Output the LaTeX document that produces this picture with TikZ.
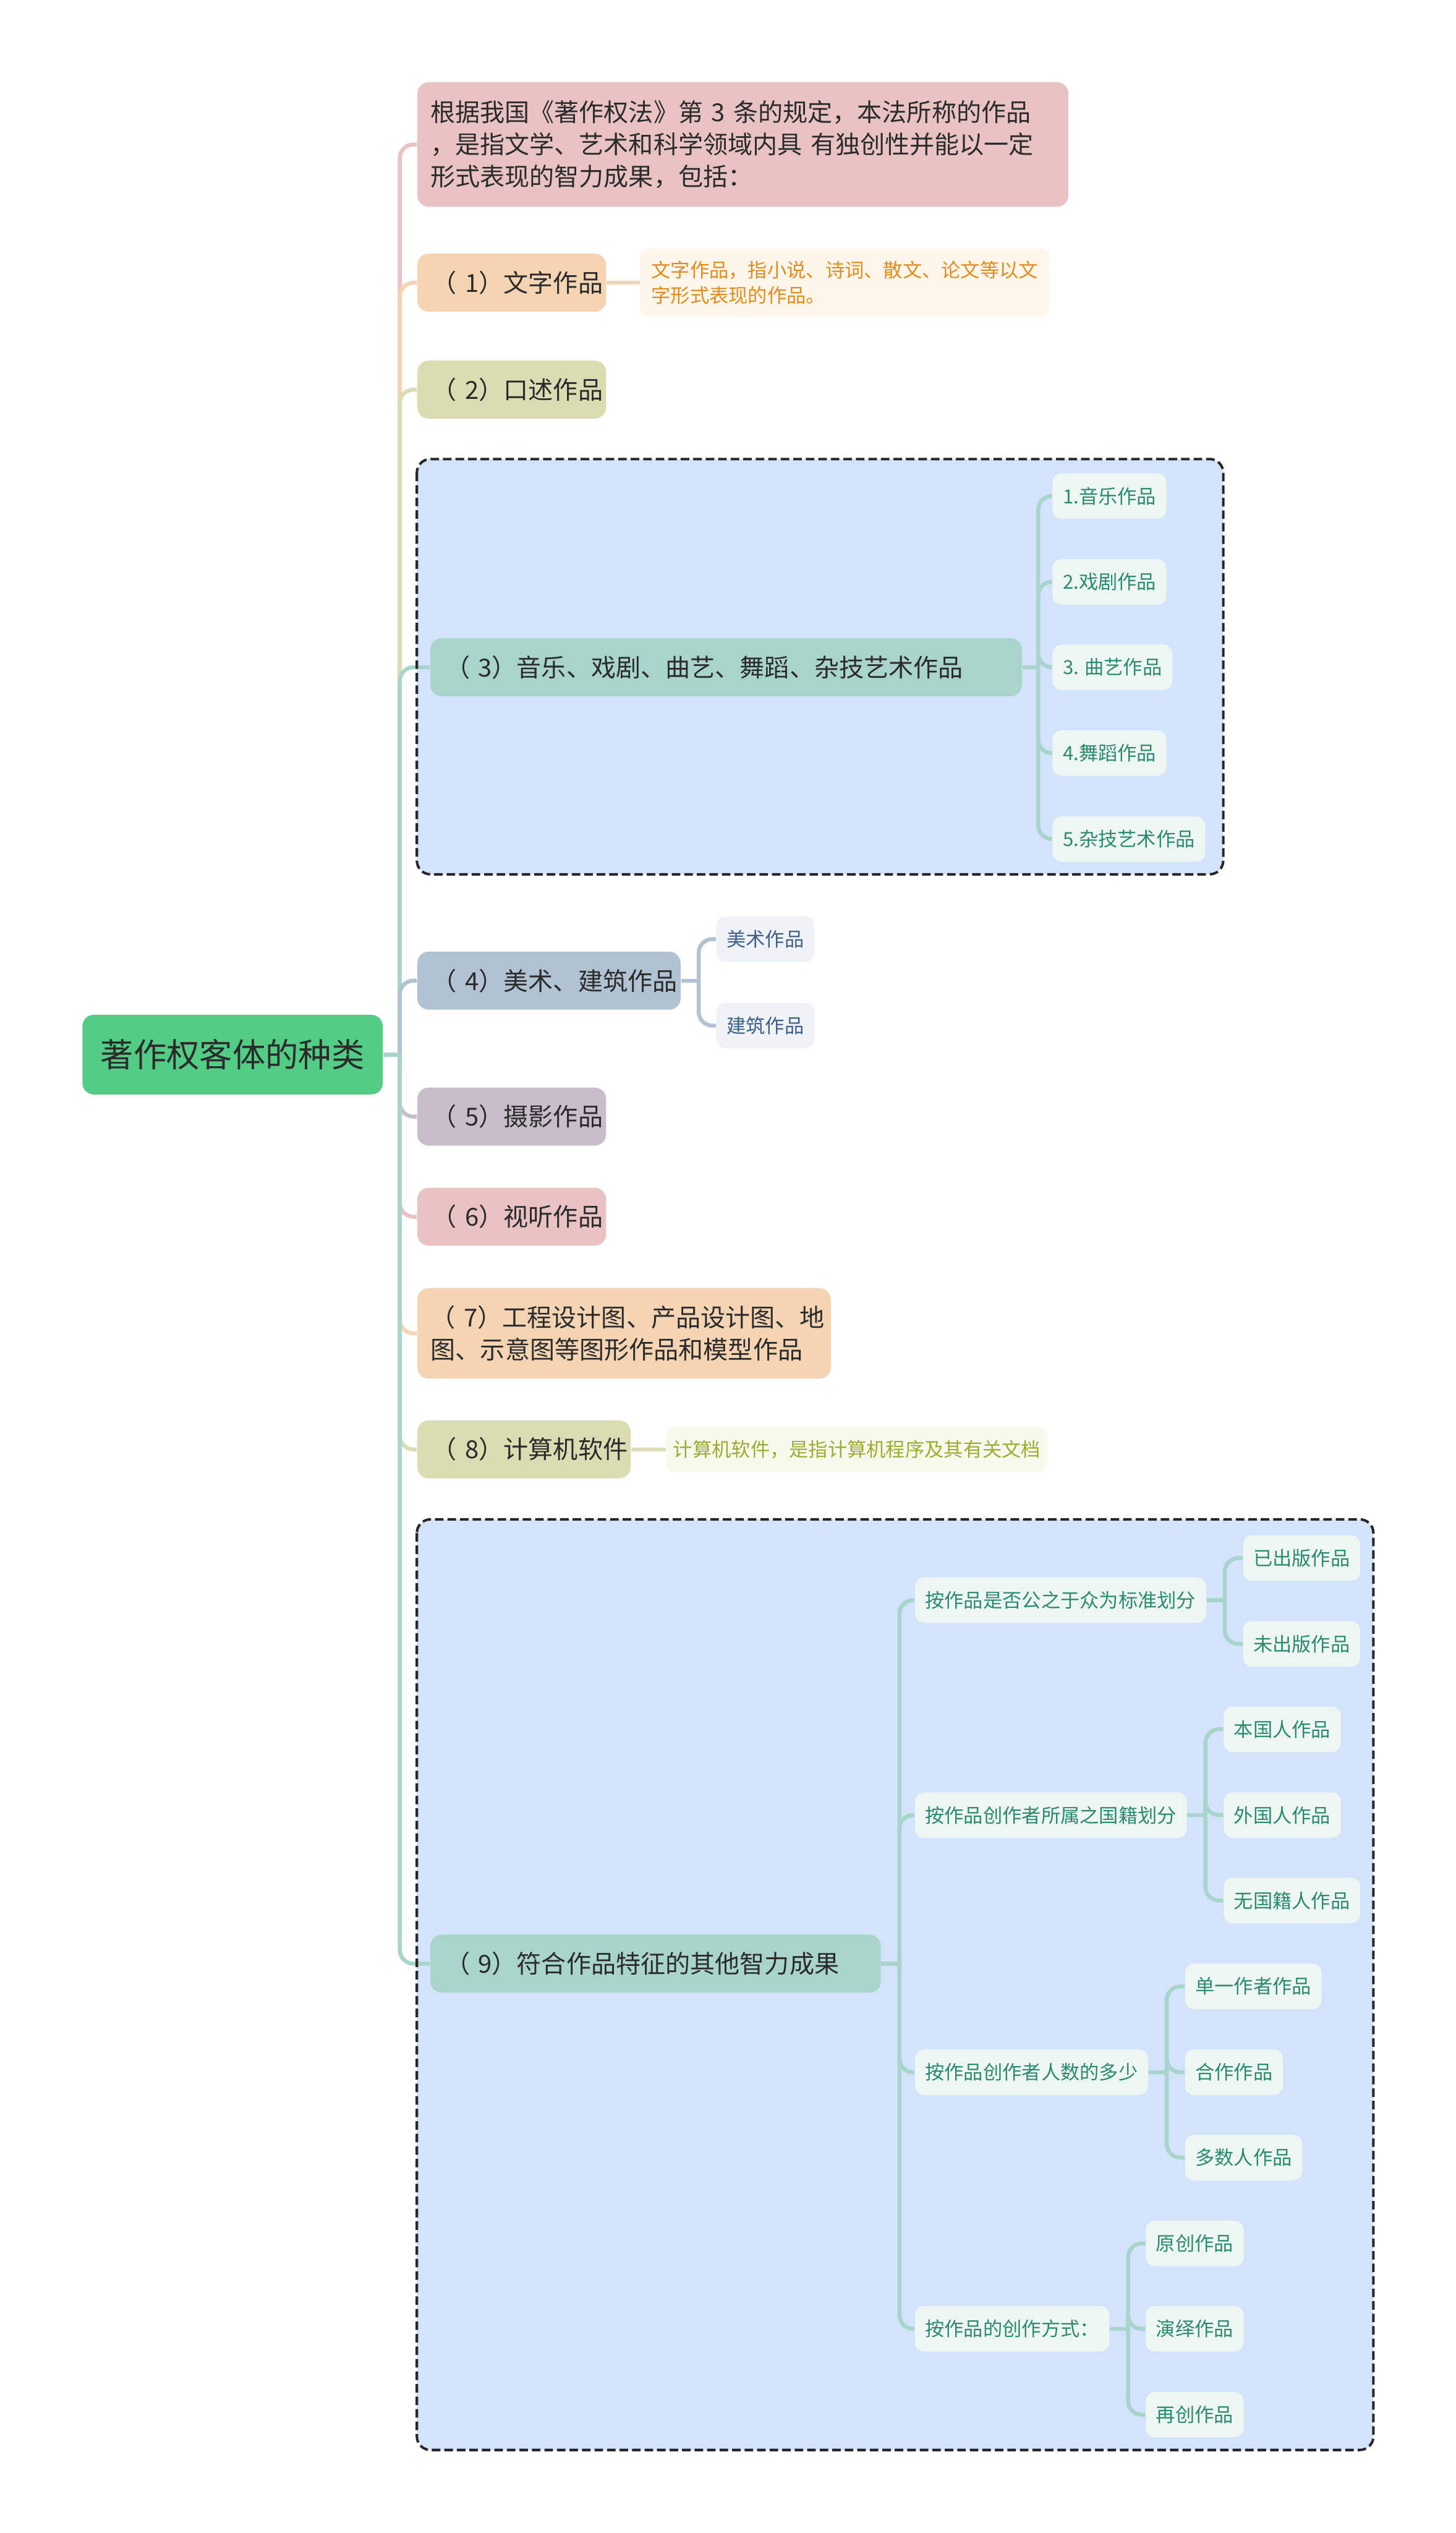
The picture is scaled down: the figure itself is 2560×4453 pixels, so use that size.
\documentclass[tikz,border=0pt]{standalone}
\usepackage{fontspec}
\setmainfont{Noto Sans CJK SC}
\usetikzlibrary{calc}

\definecolor{maintext}{HTML}{2B2B2B}
\definecolor{rootgreen}{HTML}{53CD85}
\definecolor{rosefill}{HTML}{E9C3C3}
\definecolor{peachfill}{HTML}{F4D4B3}
\definecolor{olivefill}{HTML}{DADDB1}
\definecolor{tealfill}{HTML}{A9D4CC}
\definecolor{slatefill}{HTML}{B1C2D3}
\definecolor{mauvefill}{HTML}{C9BCCB}
\definecolor{framefill}{HTML}{D4E3FC}
\definecolor{leafteal}{HTML}{EEF6F4}
\definecolor{leafslate}{HTML}{EFF3F7}
\definecolor{tealtext}{HTML}{2B8A6D}
\definecolor{slatetext}{HTML}{3E5F8A}
\definecolor{orangetext}{HTML}{E38B1D}
\definecolor{olivetext}{HTML}{9CAC31}
\definecolor{descpeach}{HTML}{FEF6EB}
\definecolor{descolive}{HTML}{F7F9EC}

\tikzset{
  rootbox/.style={fill=rootgreen, rounded corners=5pt, minimum width=132pt, minimum height=35pt, inner sep=0pt, font=\fontsize{14.5}{17}\selectfont, text=maintext},
  topic/.style={anchor=west, rounded corners=5pt, inner xsep=6.5pt, inner ysep=0pt, minimum height=25.5pt, align=left, font=\fontsize{10.9}{14.25}\selectfont, text=maintext},
  leafbox/.style={anchor=west, rounded corners=4pt, inner xsep=4.5pt, inner ysep=0pt, minimum height=20pt, font=\fontsize{8.5}{11.25}\selectfont},
  tealleaf/.style={leafbox, fill=leafteal, text=tealtext},
  slateleaf/.style={leafbox, fill=leafslate, text=slatetext},
  descbox/.style={anchor=west, rounded corners=4pt, inner ysep=0pt, align=left, font=\fontsize{8.5}{11.25}\selectfont},
  conn/.style={line width=1.75pt, rounded corners=6pt},
  framebg/.style={fill=framefill, rounded corners=6pt},
  frameline/.style={draw=black!85, line width=1.1pt, dash pattern=on 3.75pt off 1.75pt, rounded corners=6pt},
}

\begin{document}
\begin{tikzpicture}[x=0.25pt,y=-0.25pt]
\useasboundingbox (0,0) rectangle (2560,4453);

% boundaries, filled first
\coordinate (fa1) at (733,807);   \coordinate (fa2) at (2151,1537);
\coordinate (fb1) at (733,2671);  \coordinate (fb2) at (2415,4307);
\fill[framebg] (fa1) rectangle (fa2);
\fill[framebg] (fb1) rectangle (fb2);

% root and main topics
\node[rootbox] (root) at (409,1854) {著作权客体的种类};
\node[topic, fill=rosefill, text width=274.75pt, inner xsep=5.75pt, minimum height=54.75pt] (intro) at (733,254)
  {根据我国《著作权法》第 3 条的规定，本法所称的作品\\，是指文学、艺术和科学领域内具 有独创性并能以一定\\形式表现的智力成果，包括：};
\node[topic, fill=peachfill, text width=70pt] (p1) at (733,497) {（~1）文字作品};
\node[topic, fill=olivefill, text width=70pt] (p2) at (733,685) {（~2）口述作品};
\node[topic, fill=tealfill, text width=247pt] (p3) at (756,1173) {（~3）音乐、戏剧、曲艺、舞蹈、杂技艺术作品};
\node[topic, fill=slatefill, text width=102.75pt] (p4) at (733,1724) {（~4）美术、建筑作品};
\node[topic, fill=mauvefill, text width=70pt] (p5) at (733,1963) {（~5）摄影作品};
\node[topic, fill=rosefill, text width=70pt] (p6) at (733,2139) {（~6）视听作品};
\node[topic, fill=peachfill, text width=170pt, inner xsep=5.9pt, minimum height=39.75pt] (p7) at (733,2344)
  {（~7）工程设计图、产品设计图、地\\图、示意图等图形作品和模型作品};
\node[topic, fill=olivefill, text width=80.75pt] (p8) at (733,2548) {（~8）计算机软件};
\node[topic, fill=tealfill, text width=185pt] (p9) at (756,3452) {（~9）符合作品特征的其他智力成果};

% notes
\node[descbox, fill=descpeach, text=orangetext, text width=170pt, inner xsep=4.9pt, minimum height=30pt] (d1) at (1125,497)
  {文字作品，指小说、诗词、散文、论文等以文\\字形式表现的作品。};
\node[descbox, fill=descolive, text=olivetext, inner xsep=3pt, minimum height=20pt] (d8) at (1171,2548)
  {计算机软件，是指计算机程序及其有关文档};

% subtopics of (3) and (4)
\foreach \t/\y [count=\i] in {1.音乐作品/872, 2.戏剧作品/1023, 3. 曲艺作品/1173, 4.舞蹈作品/1324, 5.杂技艺术作品/1475}
  \node[tealleaf] (m\i) at (1850,\y) {\t};
\node[slateleaf] (art1) at (1259,1651) {美术作品};
\node[slateleaf] (art2) at (1259,1803) {建筑作品};

% subtopics of (9)
\node[tealleaf] (ka) at (1608,2813) {按作品是否公之于众为标准划分};
\node[tealleaf] (kb) at (1608,3191) {按作品创作者所属之国籍划分};
\node[tealleaf] (kc) at (1608,3643) {按作品创作者人数的多少};
\node[tealleaf] (kd) at (1608,4094) {按作品的创作方式：};
\node[tealleaf] (ka1) at (2185,2739) {已出版作品};
\node[tealleaf] (ka2) at (2185,2890) {未出版作品};
\node[tealleaf] (kb1) at (2151,3040) {本国人作品};
\node[tealleaf] (kb2) at (2151,3191) {外国人作品};
\node[tealleaf] (kb3) at (2151,3341) {无国籍人作品};
\node[tealleaf] (kc1) at (2083,3492) {单一作者作品};
\node[tealleaf] (kc2) at (2083,3643) {合作作品};
\node[tealleaf] (kc3) at (2083,3793) {多数人作品};
\node[tealleaf] (kd1) at (2014,3944) {原创作品};
\node[tealleaf] (kd2) at (2014,4094) {演绎作品};
\node[tealleaf] (kd3) at (2014,4245) {再创作品};

% connectors from the root
\coordinate (hub) at (703,1854);
\draw[conn, tealfill] (root.east) -- (hub);
\draw[conn, rosefill] (hub) |- (intro.west);
\draw[conn, peachfill] (hub) |- (p1.west);
\draw[conn, olivefill] (hub) |- (p2.west);
\draw[conn, tealfill] (hub) |- (p3.west);
\draw[conn, slatefill] (hub) |- (p4.west);
\draw[conn, mauvefill] (hub) |- (p5.west);
\draw[conn, rosefill] (hub) |- (p6.west);
\draw[conn, peachfill] (hub) |- (p7.west);
\draw[conn, olivefill] (hub) |- (p8.west);
\draw[conn, tealfill] (hub) |- (p9.west);

\draw[conn, peachfill] (p1.east) -- (d1.west);
\draw[conn, olivefill] (p8.east) -- (d8.west);

% branches
\coordinate (b3) at ($(p3.east)+(28,0)$);
\draw[conn, tealfill] (p3.east) -- (b3);
\foreach \i in {1,...,5} \draw[conn, tealfill] (b3) |- (m\i.west);
\coordinate (b4) at ($(p4.east)+(31,0)$);
\draw[conn, slatefill] (p4.east) -- (b4);
\draw[conn, slatefill] (b4) |- (art1.west);
\draw[conn, slatefill] (b4) |- (art2.west);
\coordinate (b9) at ($(p9.east)+(32,0)$);
\draw[conn, tealfill] (p9.east) -- (b9);
\foreach \k in {ka,kb,kc,kd} \draw[conn, tealfill] (b9) |- (\k.west);
\foreach \k/\n in {ka/2,kb/3,kc/3,kd/3} {
  \coordinate (b\k) at ($(\k.east)+(32,0)$);
  \draw[conn, tealfill] (\k.east) -- (b\k);
  \foreach \j in {1,...,\n} \draw[conn, tealfill] (b\k) |- (\k\j.west);
}

% dashed outlines on top
\draw[frameline] (fa1) rectangle (fa2);
\draw[frameline] (fb1) rectangle (fb2);
\end{tikzpicture}
\end{document}
